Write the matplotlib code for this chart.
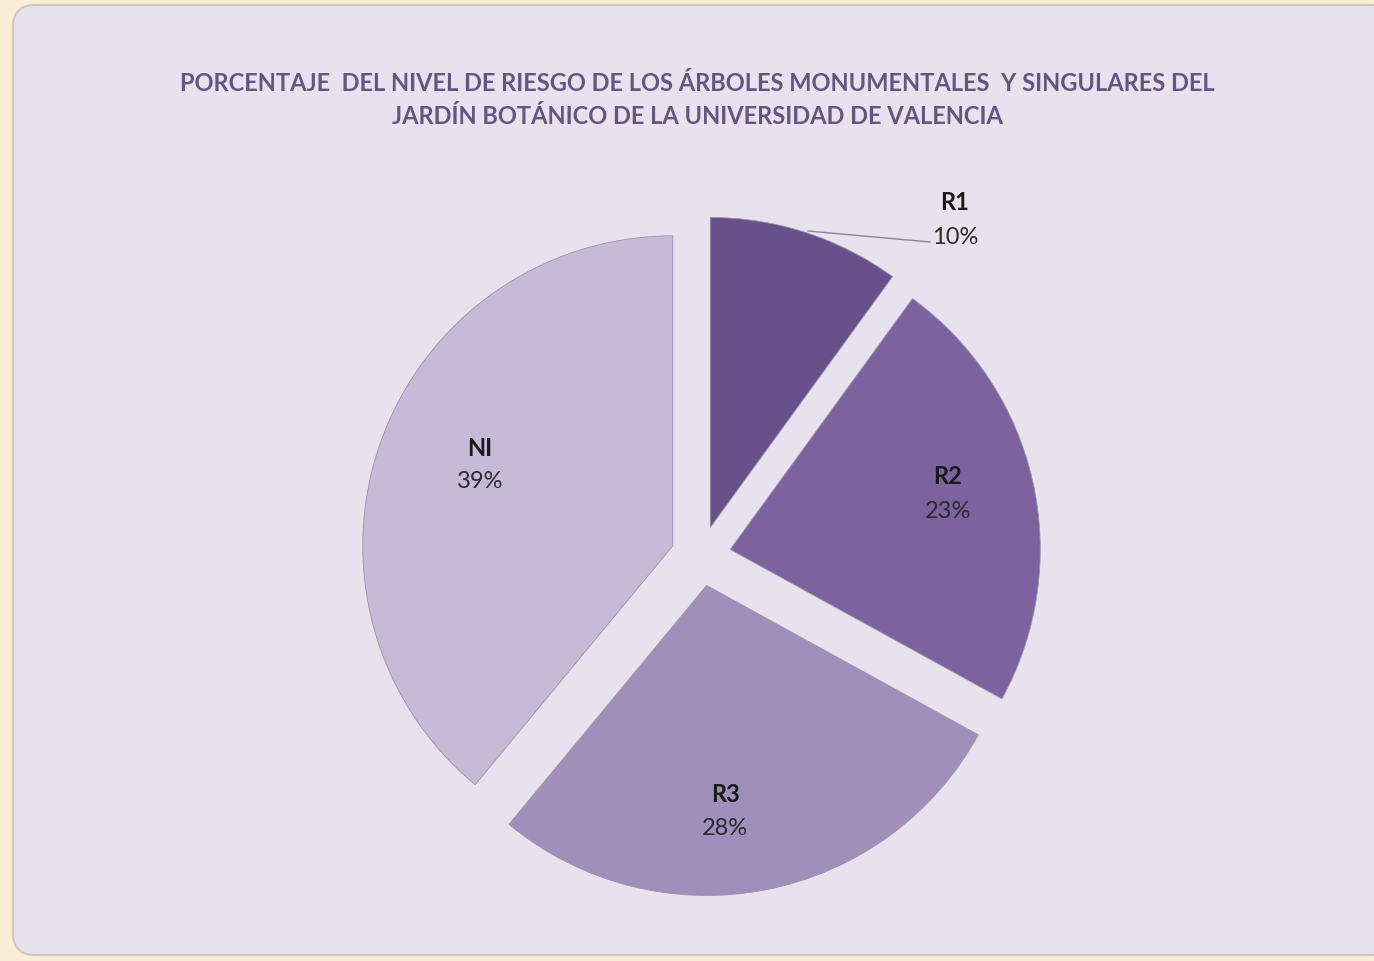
import matplotlib
matplotlib.use("Agg")
import matplotlib.pyplot as plt
from matplotlib.patches import FancyBboxPatch

categories = ["R1", "R2", "R3", "NI"]
values = [10, 23, 28, 39]
colors = ["#68508a", "#7c629f", "#a08fbb", "#c5bbd7"]
title = ("PORCENTAJE  DEL NIVEL DE RIESGO DE LOS ÁRBOLES MONUMENTALES  Y SINGULARES DEL\n"
         "JARDÍN BOTÁNICO DE LA UNIVERSIDAD DE VALENCIA")

W, H = 1374, 962
fig = plt.figure(figsize=(W / 100, H / 100), dpi=100)
fig.patch.set_facecolor("#fbeed6")
ax = fig.add_axes([0, 0, 1, 1])
ax.set_xlim(0, W)
ax.set_ylim(0, H)
ax.set_aspect("equal")
ax.axis("off")

panel = FancyBboxPatch((13, 6), W - 13 + 20, H - 12, boxstyle="round,pad=0,rounding_size=22",
                       facecolor="#e8e1ee", edgecolor="#cfc6c0", linewidth=1.5, zorder=0)
ax.add_patch(panel)

cx, cy, r = 701, H - 557, 310
wedges, _ = ax.pie(values, colors=colors, startangle=90, counterclock=False,
                   explode=[30] * 4, center=(cx, cy), radius=r,
                   wedgeprops=dict(edgecolor="#9a92a6", linewidth=0.6),
                   frame=False)
ax.set_xlim(0, W)
ax.set_ylim(0, H)

fnt = ["Lato", "DejaVu Sans"]
ax.text(697, H - 100, title, ha="center", va="center", fontsize=17, fontweight="bold",
        color="#65557f", family=fnt, linespacing=1.5)

label_pos = {"R1": (955, 220), "R2": (948, 494), "R3": (725, 812), "NI": (480, 465)}
for cat, val in zip(categories, values):
    x, y = label_pos[cat]
    ax.text(x, H - y + 17, cat, ha="center", va="center", fontsize=17, fontweight="bold",
            color="#1a1a1a", family=fnt)
    ax.text(x, H - y - 17, f"{val}%", ha="center", va="center", fontsize=17,
            color="#2a2a2a", family=fnt)

# leader line for R1
ax.plot([808, 930], [H - 232, H - 243], color="#8a8494", linewidth=1)

fig.savefig("out.png", dpi=100, facecolor=fig.get_facecolor())
